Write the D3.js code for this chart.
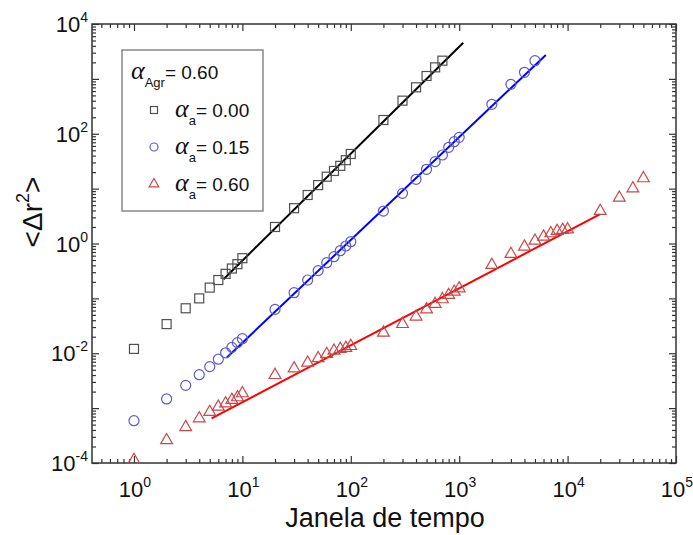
<!DOCTYPE html>
<html>
<head>
<meta charset="utf-8">
<script src="https://cdn.jsdelivr.net/npm/d3@7"></script>
<style>
  html, body { margin: 0; padding: 0; background: #fff; }
  svg { display: block; }
  text { font-family: "Liberation Sans", Arial, sans-serif; fill: #111; }
</style>
</head>
<body>
<svg id="chart" width="693" height="535"></svg>
<script>
// ---------------- data ----------------
const timeWindow = [1,2,3,4,5,6,7,8,9,10,20,30,40,50,60,70,80,90,100,200,300,400,500,600,700];
const msdAlpha000 = [0.012,0.034,0.066,0.10,0.157,0.216,0.28,0.35,0.42,0.54,2.0,4.4,7.65,11.6,16.5,21,26,33,42.8,178,401,702,1128,1622,2146];

const timeWindowB = [1,2,3,4,5,6,7,8,9,10,20,30,40,50,60,70,80,90,100,200,300,400,500,600,700,800,900,1000,2000,3000,4000,5000];
const msdAlpha015 = [5.9e-4,1.47e-3,2.6e-3,4.07e-3,5.7e-3,7.8e-3,0.0102,0.0128,0.0156,0.0184,0.063,0.127,0.216,0.32,0.447,0.575,0.74,0.90,1.08,3.9,8.2,14.8,22.5,31,41,56.6,71.6,86,344,795,1318,2146];

const timeWindowC = [1,2,3,4,5,6,7,8,9,10,20,30,40,50,60,70,80,90,100,200,300,400,500,600,700,800,900,1000,2000,3000,4000,5000,6000,7000,8000,9000,10000,20000,30000,40000,50000];
const msdAlpha060 = [1.13e-4,2.6e-4,4.5e-4,6.5e-4,8.5e-4,1.06e-3,1.22e-3,1.41e-3,1.57e-3,1.86e-3,4.0e-3,5.3e-3,6.7e-3,8.1e-3,9.7e-3,0.0111,0.0119,0.0125,0.0135,0.0237,0.034,0.0464,0.063,0.079,0.096,0.115,0.132,0.152,0.406,0.644,0.875,1.12,1.33,1.53,1.69,1.77,1.8,3.9,6.8,10.1,15.4];

// power-law fit segments (endpoints)
const fitBlackX = [6.7, 1090];   const fitBlackY = [0.223, 4560];
const fitBlueX  = [7.2, 6300];   const fitBlueY  = [8.4e-3, 2723];
const fitRedX   = [5.2, 19800];  const fitRedY   = [6.5e-4, 3.4];

const xMajorExp = [0,1,2,3,4,5];
const yMajorExp = [-4,-2,0,2,4];
const legendTitle = "= 0.60";
const legendLabels = ["= 0.00", "= 0.15", "= 0.60"];
const xTitle = "Janela de tempo";

// ---------------- layout ----------------
const svg = d3.select("#chart");
const L = 92, R = 676, T = 24, B = 463;
const x = d3.scaleLog().domain([0.41, 1e5]).range([L, R]);
const y = d3.scaleLog().domain([1e-4, 1e4]).range([B, T]);

const axisColor = "#333";
const xMajors = xMajorExp.map(e => Math.pow(10, e));
const xMinors = [];
[0.5,0.6,0.7,0.8,0.9].forEach(v => xMinors.push(v));
for (let k = 0; k < 5; k++) for (let m = 2; m <= 9; m++) xMinors.push(m * Math.pow(10, k));
const yMajorsAll = d3.range(-4, 5).map(e => Math.pow(10, e));
const yMinors = [];
for (let k = -4; k < 4; k++) for (let m = 2; m <= 9; m++) yMinors.push(m * Math.pow(10, k));

function styleAxis(g) {
  g.select(".domain").remove();
  g.selectAll(".tick line").attr("stroke", axisColor).attr("stroke-width", 1.2);
  g.selectAll(".tick text").remove();
}
// bottom / top
svg.append("g").attr("transform", `translate(0,${B})`)
  .call(d3.axisBottom(x).tickValues(xMajors).tickSize(-7).tickFormat("")).call(styleAxis);
svg.append("g").attr("transform", `translate(0,${B})`)
  .call(d3.axisBottom(x).tickValues(xMinors).tickSize(-4).tickFormat("")).call(styleAxis);
svg.append("g").attr("transform", `translate(0,${T})`)
  .call(d3.axisTop(x).tickValues(xMajors).tickSize(-7).tickFormat("")).call(styleAxis);
svg.append("g").attr("transform", `translate(0,${T})`)
  .call(d3.axisTop(x).tickValues(xMinors).tickSize(-4).tickFormat("")).call(styleAxis);
// left / right
svg.append("g").attr("transform", `translate(${L},0)`)
  .call(d3.axisLeft(y).tickValues(yMajorsAll).tickSize(-7).tickFormat("")).call(styleAxis);
svg.append("g").attr("transform", `translate(${L},0)`)
  .call(d3.axisLeft(y).tickValues(yMinors).tickSize(-4).tickFormat("")).call(styleAxis);
svg.append("g").attr("transform", `translate(${R},0)`)
  .call(d3.axisRight(y).tickValues(yMajorsAll).tickSize(-7).tickFormat("")).call(styleAxis);
svg.append("g").attr("transform", `translate(${R},0)`)
  .call(d3.axisRight(y).tickValues(yMinors).tickSize(-4).tickFormat("")).call(styleAxis);

// frame
svg.append("rect").attr("x", L).attr("y", T).attr("width", R - L).attr("height", B - T)
  .attr("fill", "none").attr("stroke", axisColor).attr("stroke-width", 1.5);

// tick labels
const xl = svg.append("g");
xMajorExp.forEach(e => {
  const t = xl.append("text").attr("x", x(Math.pow(10, e)) + 1).attr("y", 497)
    .attr("text-anchor", "middle").attr("font-size", 22);
  t.append("tspan").text("10");
  t.append("tspan").attr("font-size", 14).attr("dy", -10).text(String(e));
});
const yl = svg.append("g");
yMajorExp.forEach(e => {
  const t = yl.append("text").attr("x", 88).attr("y", y(Math.pow(10, e)) + 8)
    .attr("text-anchor", "end").attr("font-size", 22);
  t.append("tspan").text("10");
  t.append("tspan").attr("font-size", 14).attr("dy", -10).text(String(e));
});

// axis titles
svg.append("text").attr("x", 385).attr("y", 527).attr("text-anchor", "middle")
  .attr("font-size", 27).text(xTitle);
const yt = svg.append("text").attr("transform", "translate(42,212) rotate(-90)")
  .attr("text-anchor", "middle").attr("font-size", 28);
yt.append("tspan").text("<Δr");
yt.append("tspan").attr("font-size", 18).attr("dy", -13).text("2");
yt.append("tspan").attr("dy", 13).text(">");

// fit lines
const line = d3.line().x(d => x(d[0])).y(d => y(d[1]));
[[fitBlackX, fitBlackY, "#000"], [fitBlueX, fitBlueY, "#0000ff"], [fitRedX, fitRedY, "#ff0000"]]
  .forEach(([xs, ys, c]) => {
    svg.append("path").datum(xs.map((v, i) => [v, ys[i]]))
      .attr("d", line).attr("fill", "none").attr("stroke", c).attr("stroke-width", 2);
  });

// markers
const sqColor = "#505050", ciColor = "#5a5ad2", trColor = "#c84848";
svg.append("g").selectAll("rect").data(timeWindow.map((v, i) => [v, msdAlpha000[i]]))
  .join("rect").attr("x", d => x(d[0]) - 4.5).attr("y", d => y(d[1]) - 4.5)
  .attr("width", 9).attr("height", 9).attr("fill", "none").attr("stroke", sqColor).attr("stroke-width", 1.2);
svg.append("g").selectAll("circle").data(timeWindowB.map((v, i) => [v, msdAlpha015[i]]))
  .join("circle").attr("cx", d => x(d[0])).attr("cy", d => y(d[1])).attr("r", 5)
  .attr("fill", "none").attr("stroke", ciColor).attr("stroke-width", 1.2);
const tri = d3.symbol().type(d3.symbolTriangle).size(60);
svg.append("g").selectAll("path").data(timeWindowC.map((v, i) => [v, msdAlpha060[i]]))
  .join("path").attr("transform", d => `translate(${x(d[0])},${y(d[1])})`)
  .attr("d", tri).attr("fill", "none").attr("stroke", trColor).attr("stroke-width", 1.2);

// legend
const lg = svg.append("g");
lg.append("rect").attr("x", 122).attr("y", 50).attr("width", 141).attr("height", 161)
  .attr("fill", "#fff").attr("stroke", "#888").attr("stroke-width", 1.5);
function alphaLabel(xp, yp, sub, rest) {
  const t = lg.append("text").attr("x", xp).attr("y", yp).attr("font-size", 19);
  t.append("tspan").attr("font-family", "Liberation Serif, serif").attr("font-style", "italic")
    .attr("font-size", 26).text("α");
  t.append("tspan").attr("font-size", 13).attr("dy", 8).text(sub);
  t.append("tspan").attr("dy", -8).text(rest);
}
alphaLabel(131, 79, "Agr", legendTitle);
const rowsY = [110, 147, 184];
lg.append("rect").attr("x", 150.5).attr("y", rowsY[0] - 3.5).attr("width", 7).attr("height", 7)
  .attr("fill", "none").attr("stroke", sqColor).attr("stroke-width", 1.2);
lg.append("circle").attr("cx", 154).attr("cy", rowsY[1]).attr("r", 4)
  .attr("fill", "none").attr("stroke", ciColor).attr("stroke-width", 1.2);
lg.append("path").attr("transform", `translate(154,${rowsY[2]})`)
  .attr("d", d3.symbol().type(d3.symbolTriangle).size(40))
  .attr("fill", "none").attr("stroke", trColor).attr("stroke-width", 1.2);
legendLabels.forEach((s, i) => alphaLabel(175, rowsY[i] + 7, "a", s));
</script>
</body>
</html>
